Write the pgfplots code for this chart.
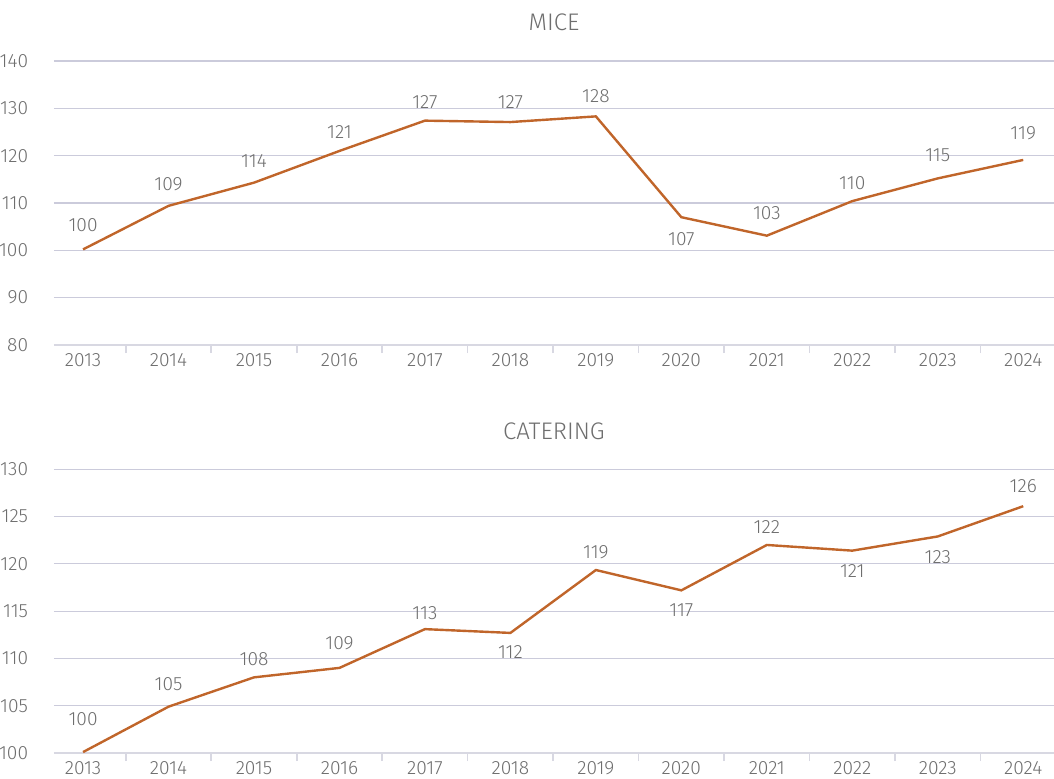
\documentclass[border=0pt]{standalone}
\usepackage{pgfplots}
\usepackage{pgfplotstable}
\pgfplotsset{compat=1.18}
\usepackage{fontspec}
\setmainfont{Fira Sans Light}
\definecolor{linec}{HTML}{C0652A}
\definecolor{txtc}{HTML}{6E6E6E}
\definecolor{gridc}{HTML}{CBCBDB}
\definecolor{axc}{HTML}{D8D8E2}

\pgfplotstableread{
x y lab off
0 100.2 100 12
1 109.4 109 11
2 114.3 114 11
3 121.0 121 9.5
4 127.4 127 9.5
5 127.1 127 10
6 128.3 128 10
7 107.0 107 -11
8 103.1 103 11.5
9 110.4 110 9
10 115.2 115 11.5
11 119.1 119 13.5
}\mice

\pgfplotstableread{
x y lab off
0 100.1 100 16.5
1 104.9 105 11.5
2 108.0 108 9
3 109.0 109 12.5
4 113.1 113 8
5 112.7 112 -9.5
6 119.35 119 9
7 117.2 117 -10
8 122.0 122 9
9 121.4 121 -10
10 122.9 123 -10.5
11 126.1 126 10
}\catering

\pgfplotsset{
  panel/.style={
    scale only axis,
    width=500pt,
    xmin=-0.34, xmax=11.36,
    axis y line*=left,
    y axis line style={draw=none},
    axis x line*=bottom,
    x axis line style={draw=axc, line width=1pt, -},
    xtick={0,...,11},
    xticklabels={2013,2014,2015,2016,2017,2018,2019,2020,2021,2022,2023,2024},
    major x tick style={draw=none},
    minor xtick={0.5,1.5,...,10.5},
    minor x tick style={draw=axc, line width=0.8pt},
    minor tick length=4pt,
    xtick pos=bottom,
    tick align=outside,
    ymajorgrids,
    major grid style={draw=gridc, line width=0.6pt},
    major y tick style={draw=none},
    /pgf/number format/assume math mode=true,
    tick label style={font=\fontsize{9.6}{11}\selectfont, text=txtc},
    xticklabel style={inner sep=0pt, anchor=north, yshift=0.2pt},
    yticklabel style={inner sep=0pt, anchor=east, xshift=-8.5pt},
    title style={at={(0.5,1)}, anchor=center, font=\fontsize{12}{14}\selectfont, text=txtc},
    clip=false,
  },
  lbl/.style={
    color=linec, line width=1.2pt, mark=none,
    point meta=explicit symbolic,
    nodes near coords,
    visualization depends on={\thisrow{off} \as \myoff},
    nodes near coords style={anchor=center, font=\fontsize{9.6}{11}\selectfont, text=txtc, yshift=\myoff pt, inner sep=0pt},
  }
}

\begin{document}
\begin{tikzpicture}
\path[use as bounding box] (-27pt,172.5pt) rectangle (500pt,-216.5pt);
\begin{axis}[panel, at={(0pt,0pt)}, anchor=south west,
  height=142pt, ymin=80, ymax=140, ytick={80,90,...,140},
  title=MICE, title style={yshift=13.5pt}]
  \addplot[lbl] table[x=x, y=y, meta=lab] {\mice};
\end{axis}
\begin{axis}[panel, at={(0pt,-204pt)}, anchor=south west,
  height=141.85pt, ymin=100, ymax=130, ytick={100,105,...,130},
  title=CATERING, title style={yshift=13pt}]
  \addplot[lbl] table[x=x, y=y, meta=lab] {\catering};
\end{axis}
\end{tikzpicture}
\end{document}
